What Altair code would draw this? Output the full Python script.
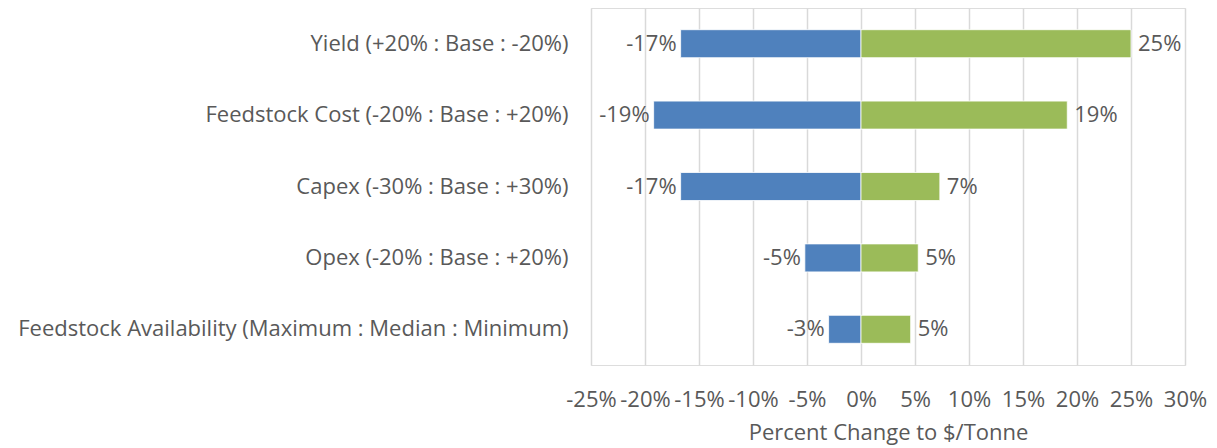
import altair as alt
import pandas as pd

factors = [
    "Yield (+20% : Base : -20%)",
    "Feedstock Cost (-20% : Base : +20%)",
    "Capex (-30% : Base : +30%)",
    "Opex (-20% : Base : +20%)",
    "Feedstock Availability (Maximum : Median : Minimum)",
]
low_values = [-16.7, -19.2, -16.7, -5.2, -3.0]
high_values = [25.0, 19.1, 7.3, 5.3, 4.6]
tick_values = [-25, -20, -15, -10, -5, 0, 5, 10, 15, 20, 25, 30]

rows = []
for f, lo, hi in zip(factors, low_values, high_values):
    rows.append({"factor": f, "side": "low", "value": lo})
    rows.append({"factor": f, "side": "high", "value": hi})
df = pd.DataFrame(rows)

FONT = "Open Sans"
FS = 22
GRAY = "#595959"

y_enc = alt.Y(
    "factor:N",
    sort=factors,
    title=None,
    axis=alt.Axis(
        labelFont=FONT, labelFontSize=FS, labelColor=GRAY, labelPadding=23,
        ticks=False, domain=False, labelLimit=700, grid=False,
    ),
)
x_enc = alt.X(
    "value:Q",
    scale=alt.Scale(domain=[-25, 30], nice=False, zero=False),
    title="Percent Change to $/Tonne",
    axis=alt.Axis(
        values=tick_values, labelExpr="toString(datum.value) + '%'",
        labelOverlap=False, labelFlush=False,
        labelFont=FONT, labelFontSize=FS, labelColor=GRAY, labelPadding=24,
        titleFont=FONT, titleFontSize=FS, titleColor=GRAY, titleFontWeight="normal",
        titlePadding=12,
        ticks=False, domain=False, grid=True, gridColor="#d9d9d9", gridWidth=1.5,
    ),
)

bars = alt.Chart(df).mark_bar(size=28, stroke="white", strokeWidth=0.8).encode(
    y=y_enc,
    x=x_enc,
    x2=alt.datum(0),
    color=alt.Color(
        "side:N",
        scale=alt.Scale(domain=["low", "high"], range=["#4F81BD", "#9BBB59"]),
        legend=None,
    ),
)

label_base = alt.Chart(df).transform_calculate(
    label="toString(round(datum.value)) + '%'"
)
low_labels = label_base.transform_filter("datum.side == 'low'").mark_text(
    align="right", baseline="middle", dx=-4, font=FONT, fontSize=FS, color=GRAY
).encode(y=alt.Y("factor:N", sort=factors), x="value:Q", text="label:N")
high_labels = label_base.transform_filter("datum.side == 'high'").mark_text(
    align="left", baseline="middle", dx=7, font=FONT, fontSize=FS, color=GRAY
).encode(y=alt.Y("factor:N", sort=factors), x="value:Q", text="label:N")

chart = (
    alt.layer(bars, low_labels, high_labels)
    .properties(
        width=594,
        height=357,
        autosize=alt.AutoSizeParams(type="none"),
        padding={"left": 583, "top": 0, "right": 24, "bottom": 81},
    )
    .configure_view(stroke="transparent", strokeWidth=0)
    .configure(background="white")
)

chart.save("out.html", embed_options={"renderer": "svg", "actions": False})
